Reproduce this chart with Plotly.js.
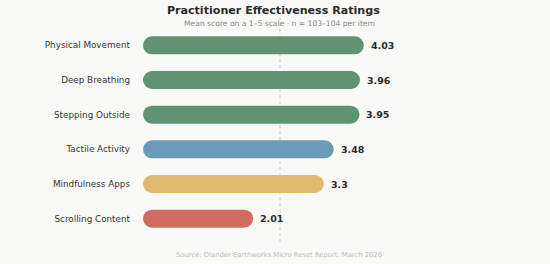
<!DOCTYPE html>
<html><head><meta charset="utf-8">
<script src="https://cdn.plot.ly/plotly-3.0.1.min.js"></script>
<style>html,body{margin:0;padding:0;background:#f9f9f7;}#chart{width:550px;height:264px;}</style>
</head><body><div id="chart"></div>
<script>
const categories = ["Physical Movement","Deep Breathing","Stepping Outside","Tactile Activity","Mindfulness Apps","Scrolling Content"];
const scores = [4.03, 3.96, 3.95, 3.48, 3.3, 2.01];
const valueLabels = ["4.03","3.96","3.95","3.48","3.3","2.01"];
const barColors = ["#5f9374","#5f9374","#5f9374","#6b9abb","#e0b96e","#d06c5f"];
const referenceLine = 2.5;

const bars = {
  type: "bar", orientation: "h", y: categories, x: scores, base: scores.map(() => 0), width: 0.52,
  marker: {color: barColors, cornerradius: "50%"},
  hoverinfo: "skip", showlegend: false
};

const annotations = scores.map((v, i) => ({
  x: v, y: categories[i], xref: "x", yref: "y", text: "<b>" + valueLabels[i] + "</b>",
  showarrow: false, xanchor: "left", xshift: 5,
  font: {family: "DejaVu Sans", size: 9.5, color: "#2b2b2b"}
}));
annotations.push(
  {xref: "paper", yref: "paper", x: 0.497, y: 1, yshift: -2, xanchor: "center", yanchor: "bottom",
   text: "Mean score on a 1–5 scale · n = 103–104 per item", showarrow: false,
   font: {family: "DejaVu Sans", size: 7.6, color: "#888"}},
  {xref: "paper", yref: "paper", x: 0.497, y: 0, yshift: -13, xanchor: "center", yanchor: "top",
   text: "Source: Olander Earthworks Micro Reset Report, March 2026", showarrow: false,
   font: {family: "DejaVu Sans", size: 6.8, color: "#bdbdbd"}}
);

const layout = {
  width: 550, height: 264,
  paper_bgcolor: "#f9f9f7", plot_bgcolor: "#f9f9f7",
  margin: {l: 143, r: 133, t: 28, b: 28},
  title: {text: "<b>Practitioner Effectiveness Ratings</b>", x: 0.497, xanchor: "center", y: 0.975, yanchor: "top",
          font: {family: "DejaVu Sans", size: 11.1, color: "#2b2b2b"}},
  xaxis: {range: [0, 5], showgrid: false, zeroline: false, showticklabels: false, ticks: "", showline: false, fixedrange: true},
  yaxis: {type: "category", categoryorder: "array", categoryarray: categories, autorange: "reversed",
          showgrid: false, zeroline: false, ticks: "", showline: false, ticklabelstandoff: 12,
          tickfont: {family: "DejaVu Sans", size: 8.8, color: "#333"}},
  shapes: [{type: "line", xref: "x", yref: "paper", x0: referenceLine, x1: referenceLine, y0: -0.03, y1: 1.06,
            line: {color: "#c8c8c8", width: 1, dash: "dot"}, layer: "below"}],
  annotations: annotations
};
Plotly.newPlot("chart", [bars], layout, {displayModeBar: false, staticPlot: true});
</script></body></html>
